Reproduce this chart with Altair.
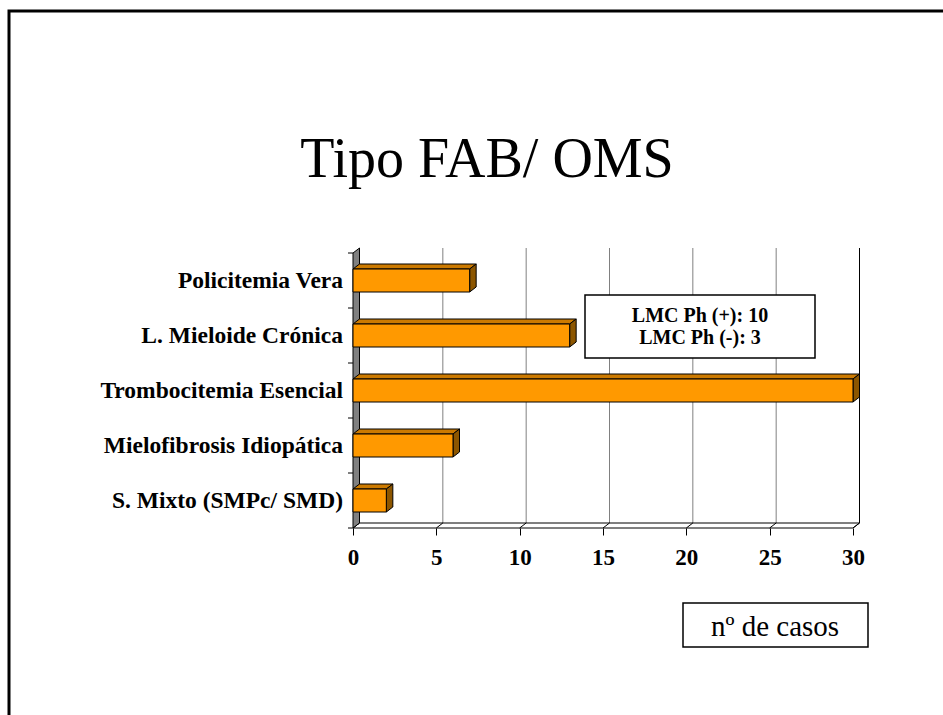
import altair as alt
import pandas as pd

# ---- chart values -------------------------------------------------------
categories = [
    "Policitemia Vera",
    "L. Mieloide Crónica",
    "Trombocitemia Esencial",
    "Mielofibrosis Idiopática",
    "S. Mixto (SMPc/ SMD)",
]
cases = [7, 13, 30, 6, 2]
x_ticks = [0, 5, 10, 15, 20, 25, 30]
title_text = "Tipo FAB/ OMS"
note_lines = ["LMC Ph (+): 10", "LMC Ph (-): 3"]
axis_caption = "nº de casos"

# ---- geometry / style ---------------------------------------------------
W, H = 500, 275                 # front plot area in pixels
X_MAX = x_ticks[-1]
N = len(categories)
PX_X = W / X_MAX                # pixels per case
PX_Y = H / N                    # pixels per category band
DX = 6.5 / PX_X                 # 3-D depth, horizontal, in data units
DY = 5.0 / PX_Y                 # 3-D depth, vertical, in data units
BAR_H = 23.0 / PX_Y             # bar thickness in band units

FONT = "Liberation Serif"
ORANGE = "#FF9900"
ORANGE_TOP = "#CC7A00"
ORANGE_SIDE = "#8C5600"
WALL = "#808080"
GRID = "#808080"

# ---- derived tables -----------------------------------------------------
rows = []
for i, (c, v) in enumerate(zip(categories, cases)):
    center = N - i - 0.5
    rows.append({"cat": c, "value": v, "center": center,
                 "y0": center - BAR_H / 2, "y1": center + BAR_H / 2})
bars = pd.DataFrame(rows)
bars["xa"] = 0.0

tops = pd.concat([
    pd.DataFrame({"cat": bars.cat, "yy": bars.y1, "xa": 0.0, "xb": bars.value}),
    pd.DataFrame({"cat": bars.cat, "yy": bars.y1 + DY, "xa": DX, "xb": bars.value + DX}),
])
sides = pd.concat([
    pd.DataFrame({"cat": bars.cat, "xx": bars.value, "ya": bars.y0, "yb": bars.y1}),
    pd.DataFrame({"cat": bars.cat, "xx": bars.value + DX, "ya": bars.y0 + DY, "yb": bars.y1 + DY}),
])

floor = pd.DataFrame({"yy": [0.0, DY], "xa": [0.0, DX], "xb": [X_MAX, X_MAX + DX]})
wall = pd.DataFrame({"xx": [0.0, DX], "ya": [0.0, DY], "yb": [N, N + DY]})
grid = pd.DataFrame({"gx": [t + DX for t in x_ticks[1:]],
                     "gy0": DY, "gy1": N + DY,
                     "edge": ["back" if t == X_MAX else "grid" for t in x_ticks[1:]]})
diag = pd.DataFrame({"x0": x_ticks, "x1": [t + DX for t in x_ticks],
                     "y0": 0.0, "y1": DY})
band_edges = pd.DataFrame({"edge": list(range(N + 1))})
one = pd.DataFrame({"k": [0]})
note = pd.DataFrame({"txt": ["\n".join(note_lines)]})

# ---- shared scales ------------------------------------------------------
xscale = alt.Scale(domain=[0, X_MAX], nice=False)
yscale = alt.Scale(domain=[0, N], nice=False, zero=False)
xaxis = alt.Axis(values=x_ticks, title=None, domain=False, grid=False,
                 tickSize=7, tickColor="black", tickWidth=1,
                 labelFont=FONT, labelFontWeight="bold", labelFontSize=23,
                 labelColor="black", labelPadding=11, labelFlush=False,
                 format="d")


def X(f):
    return alt.X(f"{f}:Q", scale=xscale, axis=xaxis)


def Y(f):
    return alt.Y(f"{f}:Q", scale=yscale, axis=None)


# ---- layers -------------------------------------------------------------
frame = alt.Chart(one).mark_rect(fill="white", fillOpacity=0, stroke="black",
                                 strokeWidth=3).encode(
    x=alt.value(-344), x2=alt.value(700), y=alt.value(-242), y2=alt.value(600))

title = alt.Chart(one).mark_text(text=title_text, font=FONT, fontSize=56,
                                 color="black", align="center",
                                 baseline="alphabetic").encode(
    x=alt.value(134), y=alt.value(-76))

gridlines = alt.Chart(grid).mark_rule(strokeWidth=1).encode(
    x=X("gx"), y=Y("gy0"), y2="gy1",
    color=alt.Color("edge:N", scale=alt.Scale(domain=["grid", "back"],
                                              range=[GRID, "#000000"]),
                    legend=None))

floor_l = alt.Chart(floor).mark_area(orient="horizontal", fill="white",
                                     stroke="black", strokeWidth=1).encode(
    y=Y("yy"), x=X("xa"), x2="xb")

diag_l = alt.Chart(diag).mark_rule(color="black", strokeWidth=1).encode(
    x=X("x0"), x2="x1", y=Y("y0"), y2="y1")

wall_l = alt.Chart(wall).mark_area(orient="vertical", fill=WALL,
                                   stroke="black", strokeWidth=1).encode(
    x=X("xx"), y=Y("ya"), y2="yb")

ticks_l = alt.Chart(band_edges).mark_rule(color="black", strokeWidth=1).encode(
    x=alt.value(-5), x2=alt.value(0), y=Y("edge"))

tops_l = alt.Chart(tops).mark_area(orient="horizontal", fill=ORANGE_TOP,
                                   stroke="black", strokeWidth=1).encode(
    y=Y("yy"), x=X("xa"), x2="xb", detail="cat:N")

sides_l = alt.Chart(sides).mark_area(orient="vertical", fill=ORANGE_SIDE,
                                     stroke="black", strokeWidth=1).encode(
    x=X("xx"), y=Y("ya"), y2="yb", detail="cat:N")

fronts_l = alt.Chart(bars).mark_rect(fill=ORANGE, stroke="black",
                                     strokeWidth=1).encode(
    x=X("xa"), x2="value", y=Y("y0"), y2="y1")

labels_l = alt.Chart(bars).mark_text(align="right", baseline="middle",
                                     font=FONT, fontWeight="bold",
                                     fontSize=23.5, color="black").encode(
    x=alt.value(-10), y=Y("center"), text="cat:N")

note_box = alt.Chart(one).mark_rect(fill="white", stroke="black",
                                    strokeWidth=1.5).encode(
    x=alt.value(232), x2=alt.value(462), y=alt.value(42), y2=alt.value(105))

note_txt = alt.Chart(note).mark_text(font=FONT, fontWeight="bold", fontSize=20,
                                     color="black", align="center",
                                     baseline="alphabetic", lineBreak="\n",
                                     lineHeight=22).encode(
    x=alt.value(347), y=alt.value(69), text="txt:N")

cap_box = alt.Chart(one).mark_rect(fill="white", stroke="black",
                                   strokeWidth=1.5).encode(
    x=alt.value(330), x2=alt.value(515), y=alt.value(350), y2=alt.value(394))

cap_txt = alt.Chart(one).mark_text(text=axis_caption, font=FONT, fontSize=29,
                                   color="black", align="center",
                                   baseline="alphabetic").encode(
    x=alt.value(422), y=alt.value(383))

chart = alt.layer(
    frame, title, gridlines, floor_l, diag_l, wall_l, ticks_l,
    tops_l, sides_l, fronts_l, labels_l, note_box, note_txt, cap_box, cap_txt,
).properties(
    width=W, height=H,
    autosize=alt.AutoSizeParams(type="none"),
    padding={"left": 353, "top": 253, "right": 90, "bottom": 187},
    background="white",
).configure_view(strokeWidth=0)

chart.save("out.html", embed_options={"renderer": "svg", "actions": False})
